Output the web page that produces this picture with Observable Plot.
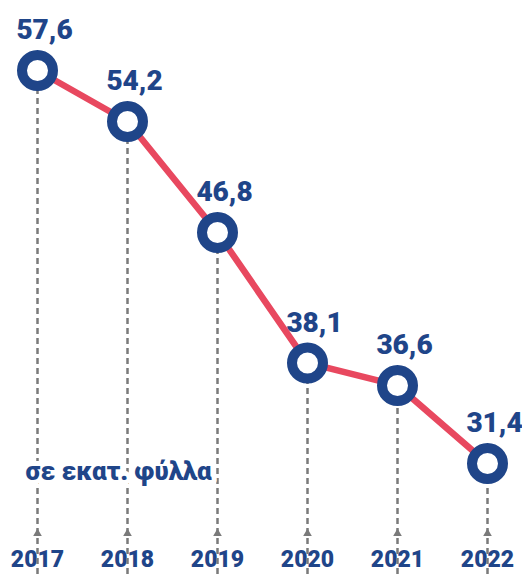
<!DOCTYPE html>
<html>
<head>
<meta charset="utf-8">
<script src="https://cdn.jsdelivr.net/npm/d3@7"></script>
<script src="https://cdn.jsdelivr.net/npm/@observablehq/plot@0.6"></script>
<style>
  html, body { margin: 0; padding: 0; background: #fff; }
</style>
</head>
<body>
<div id="chart"></div>
<script>
// Data
const years = ["2017", "2018", "2019", "2020", "2021", "2022"];
const values = [57.6, 54.2, 46.8, 38.1, 36.6, 31.4];
const valueLabels = ["57,6", "54,2", "46,8", "38,1", "36,6", "31,4"];
const unitLabel = ["σε εκατ. φύλλα"];

const data = years.map((y, i) => ({ year: y, value: values[i], label: valueLabels[i] }));

const BLUE = "#1f4589";
const RED = "#e8485f";
const GRAY = "#7a7a7a";
const FONT = "Roboto, 'Liberation Sans', sans-serif";

const chart = Plot.plot({
  width: 522,
  height: 574,
  marginTop: 70,
  marginBottom: 41,
  marginLeft: 36,
  marginRight: 35,
  style: { fontFamily: FONT, fontSize: "23px", fontWeight: "900", color: BLUE, background: "#fff" },
  x: { type: "point", domain: years, padding: 0, tickSize: 0, tickPadding: 17, label: null },
  y: { domain: [26.73, 57.6], axis: null },
  marks: [
    Plot.ruleX(data, { x: "year", y1: "value", stroke: GRAY, strokeWidth: 2.5, strokeDasharray: "6,4" }),
    Plot.dot(data, { x: "year", frameAnchor: "bottom", symbol: "triangle", r: 3.2, fill: GRAY, stroke: null }),
    Plot.line(data, { x: "year", y: "value", stroke: RED, strokeWidth: 6.5 }),
    Plot.dot(data, { x: "year", y: "value", r: 15.5, fill: "white", stroke: BLUE, strokeWidth: 10 }),
    Plot.text(data, { x: "year", y: "value", text: "label", dx: 7, dy: -40, lineAnchor: "middle",
      fill: BLUE, fontSize: 28, fontWeight: "900", fontFamily: FONT }),
    Plot.text(unitLabel, { text: d => d, frameAnchor: "bottom-left", textAnchor: "start", lineAnchor: "middle",
      dx: -11, dy: -62, fill: BLUE, stroke: "white", strokeWidth: 10, fontSize: 26, fontWeight: "900", fontFamily: FONT })
  ]
});

document.getElementById("chart").appendChild(chart);
</script>
</body>
</html>
